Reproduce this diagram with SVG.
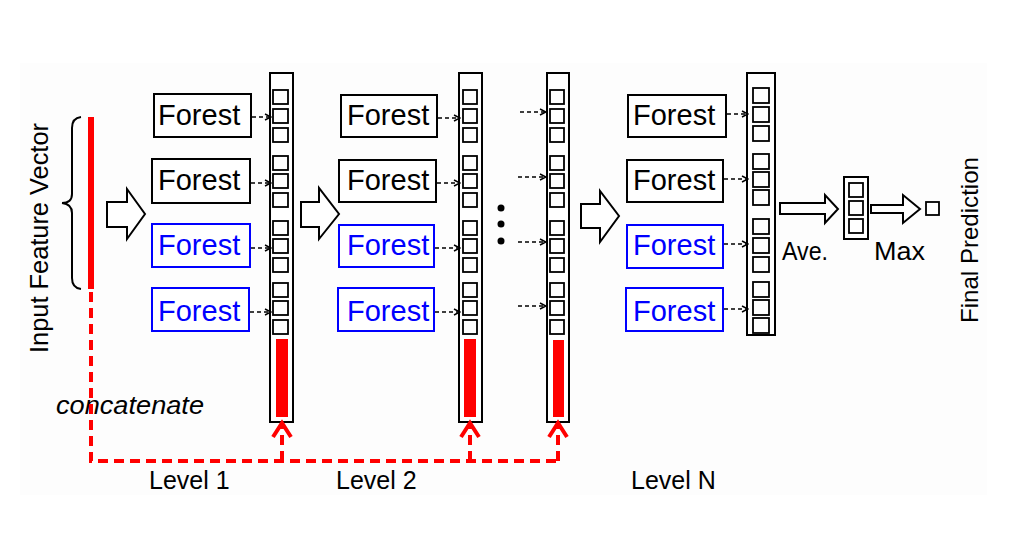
<svg xmlns="http://www.w3.org/2000/svg" width="1009" height="541" viewBox="0 0 1009 541">
<defs>
<style>
text{font-family:"Liberation Sans",Arial,sans-serif;fill:#000}
.forest{font-size:29px}
.blue{fill:#0000ff}
.fb{fill:#fff;stroke:#000;stroke-width:2}
.fbb{fill:#fff;stroke:#0000ff;stroke-width:2}
.col{fill:#fff;stroke:#000;stroke-width:2}
.sq{fill:#fff;stroke:#000;stroke-width:1.8}
.red{fill:#ff0000}
.blk{fill:#fff;stroke:#000;stroke-width:2;stroke-linejoin:miter}
.da{stroke:#000;stroke-width:1.5;stroke-dasharray:4 3;fill:none;marker-end:url(#ah)}
.rd{stroke:#ff0000;stroke-width:4;stroke-dasharray:10 6;fill:none}
.rh{stroke:#ff0000;stroke-width:4;fill:none}
.lbl{font-size:25px}
</style>
<marker id="ah" markerWidth="8" markerHeight="8" refX="7" refY="4" orient="auto" markerUnits="userSpaceOnUse">
<path d="M1,1 L7,4 L1,7" fill="none" stroke="#000" stroke-width="1.5"/>
</marker>
</defs>
<rect x="0" y="0" width="1009" height="541" fill="#fff"/>
<rect x="20" y="63" width="967" height="432" fill="#fdfdfd"/>

<g id="input">
<path d="M81,117 Q72,118 72,128 V194 Q72,203 62,203 Q72,204 72,213 V278 Q72,288 81,289" fill="none" stroke="#000" stroke-width="2"/>
<rect x="88" y="117" width="6" height="172" class="red"/>
<text class="lbl" transform="translate(48,353) rotate(-90)" textLength="230" lengthAdjust="spacingAndGlyphs">Input Feature Vector</text>
</g>

<g id="level1">
<rect class="fb" x="154" y="94" width="97" height="43"/>
<text class="forest" x="158" y="125">Forest</text>
<rect class="fb" x="152" y="159" width="98" height="44"/>
<text class="forest" x="158" y="190">Forest</text>
<rect class="fbb" x="152" y="224" width="98" height="43"/>
<text class="forest blue" x="158" y="255">Forest</text>
<rect class="fbb" x="152" y="288" width="97" height="43"/>
<text class="forest blue" x="158" y="321">Forest</text>
<text class="lbl" x="149" y="489">Level 1</text>
</g>

<g id="col1">
<rect class="col" x="270" y="73" width="23" height="349"/>
<rect class="sq" x="273" y="90" width="15" height="14"/>
<rect class="sq" x="273" y="109" width="15" height="14"/>
<rect class="sq" x="273" y="128" width="15" height="14"/>
<rect class="sq" x="273" y="156" width="15" height="14"/>
<rect class="sq" x="273" y="174" width="15" height="14"/>
<rect class="sq" x="273" y="193" width="15" height="14"/>
<rect class="sq" x="273" y="221" width="15" height="14"/>
<rect class="sq" x="273" y="239" width="15" height="14"/>
<rect class="sq" x="273" y="258" width="15" height="14"/>
<rect class="sq" x="273" y="283" width="15" height="14"/>
<rect class="sq" x="273" y="301" width="15" height="14"/>
<rect class="sq" x="273" y="320" width="15" height="14"/>
<rect class="red" x="276" y="339" width="12" height="78"/>
</g>

<g id="level2">
<rect class="fb" x="341" y="95" width="96" height="42"/>
<text class="forest" x="347" y="125">Forest</text>
<rect class="fb" x="339" y="160" width="97" height="42"/>
<text class="forest" x="347" y="190">Forest</text>
<rect class="fbb" x="339" y="225" width="95" height="42"/>
<text class="forest blue" x="347" y="255">Forest</text>
<rect class="fbb" x="338" y="288" width="96" height="43"/>
<text class="forest blue" x="347" y="321">Forest</text>
<text class="lbl" x="336" y="489">Level 2</text>
</g>

<g id="col2">
<rect class="col" x="459" y="73" width="23" height="349"/>
<rect class="sq" x="463" y="90" width="14" height="14"/>
<rect class="sq" x="463" y="109" width="14" height="14"/>
<rect class="sq" x="463" y="128" width="14" height="14"/>
<rect class="sq" x="463" y="156" width="14" height="14"/>
<rect class="sq" x="463" y="174" width="14" height="14"/>
<rect class="sq" x="463" y="193" width="14" height="14"/>
<rect class="sq" x="463" y="221" width="14" height="14"/>
<rect class="sq" x="463" y="239" width="14" height="14"/>
<rect class="sq" x="463" y="258" width="14" height="14"/>
<rect class="sq" x="463" y="283" width="14" height="14"/>
<rect class="sq" x="463" y="301" width="14" height="14"/>
<rect class="sq" x="463" y="320" width="14" height="14"/>
<rect class="red" x="464" y="339" width="12" height="78"/>
</g>

<g id="ellipsis">
<circle cx="501" cy="208" r="3.5"/>
<circle cx="501" cy="224" r="3.5"/>
<circle cx="501" cy="241" r="3.5"/>
</g>

<g id="col3">
<rect class="col" x="547" y="73" width="22" height="349"/>
<rect class="sq" x="550" y="90" width="14" height="14"/>
<rect class="sq" x="550" y="109" width="14" height="14"/>
<rect class="sq" x="550" y="128" width="14" height="14"/>
<rect class="sq" x="550" y="156" width="14" height="14"/>
<rect class="sq" x="550" y="174" width="14" height="14"/>
<rect class="sq" x="550" y="193" width="14" height="14"/>
<rect class="sq" x="550" y="221" width="14" height="14"/>
<rect class="sq" x="550" y="239" width="14" height="14"/>
<rect class="sq" x="550" y="258" width="14" height="14"/>
<rect class="sq" x="550" y="283" width="14" height="14"/>
<rect class="sq" x="550" y="301" width="14" height="14"/>
<rect class="sq" x="550" y="320" width="14" height="14"/>
<rect class="red" x="553" y="340" width="11" height="77"/>
</g>

<g id="levelN">
<rect class="fb" x="628" y="95" width="98" height="42"/>
<text class="forest" x="633" y="125">Forest</text>
<rect class="fb" x="627" y="160" width="96" height="42"/>
<text class="forest" x="633" y="190">Forest</text>
<rect class="fbb" x="627" y="225" width="96" height="43"/>
<text class="forest blue" x="633" y="255">Forest</text>
<rect class="fbb" x="626" y="288" width="97" height="43"/>
<text class="forest blue" x="633" y="321">Forest</text>
<text class="lbl" x="631" y="489">Level N</text>
</g>

<g id="colN">
<rect class="col" x="747" y="73" width="28" height="262"/>
<rect class="sq" x="753" y="88" width="16" height="15"/>
<rect class="sq" x="753" y="107" width="16" height="15"/>
<rect class="sq" x="753" y="126" width="16" height="15"/>
<rect class="sq" x="753" y="154" width="16" height="15"/>
<rect class="sq" x="753" y="172" width="16" height="15"/>
<rect class="sq" x="753" y="190" width="16" height="15"/>
<rect class="sq" x="753" y="219" width="16" height="15"/>
<rect class="sq" x="753" y="238" width="16" height="15"/>
<rect class="sq" x="753" y="257" width="16" height="15"/>
<rect class="sq" x="753" y="282" width="16" height="15"/>
<rect class="sq" x="753" y="300" width="16" height="15"/>
<rect class="sq" x="753" y="318" width="16" height="15"/>
</g>

<g id="average">
<rect class="col" x="844" y="177" width="24" height="62"/>
<rect class="sq" x="849" y="183" width="14" height="14"/>
<rect class="sq" x="849" y="201" width="14" height="14"/>
<rect class="sq" x="849" y="219" width="14" height="14"/>
<text class="lbl" x="782" y="260" textLength="46" lengthAdjust="spacingAndGlyphs">Ave.</text>
<text class="lbl" x="874" y="260" textLength="51" lengthAdjust="spacingAndGlyphs">Max</text>
</g>

<g id="final">
<rect class="sq" x="926" y="202" width="13" height="13"/>
<text transform="translate(978,323) rotate(-90)" style="font-size:24px" textLength="166" lengthAdjust="spacingAndGlyphs">Final Prediction</text>
</g>

<text x="56" y="414" style="font-size:26px;font-style:italic" textLength="148" lengthAdjust="spacingAndGlyphs">concatenate</text>

<g id="connectors">
<polygon class="blk" points="107,202 127,202 127,189 145,214 127,239 127,227 107,227"/>
<polygon class="blk" points="301,202 319,202 319,188 339,214 319,239 319,227 301,227"/>
<polygon class="blk" points="581,204 600,204 600,191 619,216 600,242 600,228 581,228"/>
<polygon class="blk" points="780,203 825,203 825,195 838,209 825,223 825,214 780,214"/>
<polygon class="blk" points="871,205 903,205 903,195 920,209 903,223 903,213 871,213"/>

<line class="da" x1="252" y1="117" x2="271" y2="117"/>
<line class="da" x1="251" y1="183" x2="271" y2="183"/>
<line class="da" x1="251" y1="248" x2="271" y2="248"/>
<line class="da" x1="250" y1="312" x2="271" y2="312"/>

<line class="da" x1="438" y1="118" x2="460" y2="118"/>
<line class="da" x1="437" y1="183" x2="460" y2="183"/>
<line class="da" x1="435" y1="248" x2="460" y2="248"/>
<line class="da" x1="435" y1="312" x2="460" y2="312"/>

<line class="da" x1="520" y1="112" x2="546" y2="112"/>
<line class="da" x1="518" y1="177" x2="546" y2="177"/>
<line class="da" x1="518" y1="242" x2="546" y2="242"/>
<line class="da" x1="518" y1="306" x2="546" y2="306"/>

<line class="da" x1="727" y1="114" x2="748" y2="114"/>
<line class="da" x1="724" y1="179" x2="748" y2="179"/>
<line class="da" x1="724" y1="244" x2="748" y2="244"/>
<line class="da" x1="724" y1="309" x2="748" y2="309"/>

<path class="rd" d="M91,292 V461 H558"/>
<path class="rd" d="M282,461 V425"/>
<path class="rd" d="M470,461 V425"/>
<path class="rd" d="M558,461 V425"/>
<polyline class="rh" points="273,437 282,423 291,437"/>
<polyline class="rh" points="461,437 470,423 479,437"/>
<polyline class="rh" points="549,437 558,423 567,437"/>
</g>
</svg>
